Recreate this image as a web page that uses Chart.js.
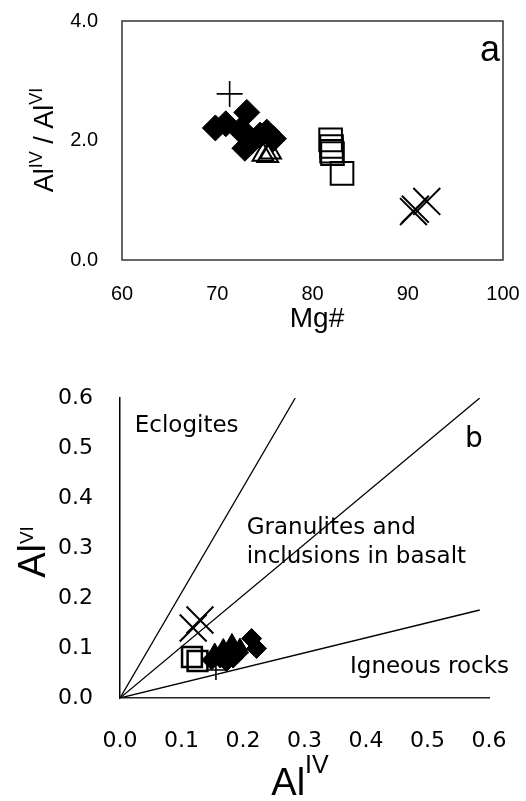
<!DOCTYPE html>
<html>
<head>
<meta charset="utf-8">
<script src="https://cdn.jsdelivr.net/npm/chart.js@4.4.0/dist/chart.umd.min.js"></script>
<style>
html, body { margin: 0; padding: 0; background: #fff; }
#wrapA { position: absolute; left: 0; top: 0; width: 526px; height: 340px; }
#wrapB { position: absolute; left: 0; top: 340px; width: 526px; height: 461px; }
</style>
</head>
<body>
<div id="wrapA"><canvas id="chartA"></canvas></div>
<div id="wrapB"><canvas id="chartB"></canvas></div>
<script>
// ---- (a) AlIV/AlVI vs Mg#  [Mg#, ratio]
var diamondsA = [[69.8, 2.21], [70.9, 2.28], [73.1, 2.47], [72.4, 2.17], [73.1, 2.09],
                 [73.4, 1.95], [72.9, 1.87], [74.5, 2.09], [75.9, 2.03], [75.2, 2.14]];
var plusA = [[71.3, 2.78]];
var trianglesA = [[74.8, 1.76], [75.3, 1.74], [75.6, 1.80]];
var squaresA = [[81.9, 2.01], [82.0, 1.90], [82.0, 1.82], [82.1, 1.78], [83.1, 1.45]];
var crossesA = [[90.6, 0.81], [90.8, 0.85], [92.0, 0.98]];
var ticksMg = [60, 70, 80, 90, 100];
var ticksRatio = [0, 2, 4];

// ---- (b) AlVI vs AlIV  [AlIV, AlVI]
var diamondsB = [[0.149, 0.076], [0.163, 0.080], [0.173, 0.073], [0.176, 0.086], [0.184, 0.080],
                 [0.192, 0.090], [0.214, 0.119], [0.222, 0.099]];
var trianglesB = [[0.154, 0.090], [0.168, 0.099], [0.182, 0.109], [0.195, 0.100]];
var plusB = [[0.156, 0.056]];
var squaresB = [[0.117, 0.082], [0.126, 0.074]];
var crossesB = [[0.119, 0.140], [0.130, 0.156]];
// field boundaries, drawn from the origin
var lineEclogite = [[0, 0], [0.285, 0.6]];
var lineGranulite = [[0, 0], [0.585, 0.6]];
var lineIgneous = [[0, 0], [0.585, 0.176]];
var ticksAl = [0, 0.1, 0.2, 0.3, 0.4, 0.5, 0.6];

function pts(arr) {
  return arr.map(function (p) { return { x: p[0], y: p[1] }; });
}

var ARIAL = 'Arial, "Liberation Sans", sans-serif';
var DEJAVU = '"DejaVu Sans", sans-serif';

// text with superscripts: parts = [{text, size, rise, family}]
function drawRich(ctx, parts, x, y, align, rot) {
  ctx.save();
  ctx.translate(x, y);
  if (rot) ctx.rotate(rot);
  var total = 0;
  parts.forEach(function (p) {
    ctx.font = p.size + 'px ' + p.family;
    p.w = ctx.measureText(p.text).width;
    total += p.w;
  });
  var cx = 0;
  if (align === 'center') cx = -total / 2;
  if (align === 'right') cx = -total;
  ctx.fillStyle = '#000';
  ctx.textAlign = 'left';
  ctx.textBaseline = 'alphabetic';
  parts.forEach(function (p) {
    ctx.font = p.size + 'px ' + p.family;
    ctx.fillText(p.text, cx, -(p.rise || 0));
    cx += p.w;
  });
  ctx.restore();
}

function marker(label, data, style, radius, fill, width) {
  return {
    label: label,
    data: pts(data),
    pointStyle: style,
    pointRadius: radius,
    pointHoverRadius: radius,
    pointBackgroundColor: fill,
    pointBorderColor: '#000',
    pointBorderWidth: width
  };
}

function boundary(label, data) {
  return {
    label: label,
    data: pts(data),
    showLine: true,
    borderColor: '#000',
    borderWidth: 1.3,
    pointRadius: 0,
    pointHoverRadius: 0
  };
}

// fixed axis box, no extra room for overhanging tick labels
function fixBox(w, h) {
  return function (s) {
    if (w) s.width = w;
    if (h) s.height = h;
    s.paddingTop = 0; s.paddingBottom = 0;
    s.paddingLeft = 0; s.paddingRight = 0;
  };
}

var labelsA = {
  id: 'labelsA',
  afterDraw: function (chart) {
    var ctx = chart.ctx, a = chart.chartArea;
    ctx.save();
    ctx.strokeStyle = '#333';
    ctx.lineWidth = 1.5;
    ctx.strokeRect(a.left, a.top, a.right - a.left, a.bottom - a.top);
    ctx.restore();
    drawRich(ctx, [
      { text: 'Al', size: 27, family: ARIAL },
      { text: 'IV', size: 18, rise: 11, family: ARIAL },
      { text: ' / ', size: 27, family: ARIAL },
      { text: 'Al', size: 27, family: ARIAL },
      { text: 'VI', size: 18, rise: 11, family: ARIAL }
    ], 53, 140, 'center', -Math.PI / 2);
    drawRich(ctx, [{ text: 'Mg#', size: 28, family: ARIAL }], 317, 327, 'center');
    var sx = chart.scales.x, sy = chart.scales.y;
    drawRich(ctx, [{ text: 'a', size: 36, family: ARIAL }],
      sx.getPixelForValue(99.7), sy.getPixelForValue(3.33), 'right');
  }
};

var labelsB = {
  id: 'labelsB',
  afterDraw: function (chart) {
    var ctx = chart.ctx;
    var sx = chart.scales.x, sy = chart.scales.y;
    drawRich(ctx, [
      { text: 'Al', size: 38, family: ARIAL },
      { text: 'VI', size: 19, rise: 12, family: ARIAL }
    ], 45, 212, 'center', -Math.PI / 2);
    drawRich(ctx, [
      { text: 'Al', size: 38, family: ARIAL },
      { text: 'IV', size: 25, rise: 22, family: ARIAL }
    ], 300, 455, 'center');
    function note(t, x, y, size) {
      drawRich(ctx, [{ text: t, size: size, family: DEJAVU }],
        sx.getPixelForValue(x), sy.getPixelForValue(y), 'left');
    }
    note('Eclogites', 0.024, 0.532, 23);
    note('Granulites and', 0.206, 0.328, 23);
    note('inclusions in basalt', 0.206, 0.270, 23);
    note('Igneous rocks', 0.374, 0.050, 23);
    note('b', 0.561, 0.502, 28);
  }
};

Chart.defaults.animation = false;
Chart.defaults.color = '#000';

new Chart(document.getElementById('chartA'), {
  type: 'scatter',
  data: {
    datasets: [
      marker('plus', plusA, 'cross', 13, '#000', 1.6),
      marker('diamond', diamondsA, 'rectRot', 13, '#000', 1),
      marker('triangle', trianglesA, 'triangle', 12, 'rgba(0,0,0,0)', 2),
      marker('square', squaresA, 'rect', 16, 'rgba(0,0,0,0)', 2),
      marker('x', crossesA, 'crossRot', 19, '#000', 2)
    ]
  },
  options: {
    responsive: true,
    maintainAspectRatio: false,
    layout: { padding: { top: 14, right: 23, left: 0, bottom: 0 } },
    plugins: { legend: { display: false }, tooltip: { enabled: false } },
    scales: {
      x: {
        type: 'linear', min: 60, max: 100,
        afterBuildTicks: function (s) { s.ticks = ticksMg.map(function (v) { return { value: v }; }); },
        ticks: { font: { family: ARIAL, size: 20 }, color: '#000', padding: 22 },
        grid: { display: false, drawTicks: false },
        border: { display: false },
        afterFit: fixBox(0, 80)
      },
      y: {
        type: 'linear', min: 0, max: 4,
        afterBuildTicks: function (s) { s.ticks = ticksRatio.map(function (v) { return { value: v }; }); },
        ticks: {
          font: { family: ARIAL, size: 20 }, color: '#000', padding: 24,
          callback: function (v) { return v.toFixed(1); }
        },
        grid: { display: false, drawTicks: false },
        border: { display: false },
        afterFit: fixBox(122, 0)
      }
    }
  },
  plugins: [labelsA]
});

new Chart(document.getElementById('chartB'), {
  type: 'scatter',
  data: {
    datasets: [
      marker('plus', plusB, 'cross', 10, '#000', 1.6),
      marker('diamond', diamondsB, 'rectRot', 10, '#000', 1),
      marker('triangle', trianglesB, 'triangle', 10, '#000', 1),
      marker('square', squaresB, 'rect', 14, 'rgba(0,0,0,0)', 2.5),
      marker('x', crossesB, 'crossRot', 19, '#000', 2),
      boundary('Eclogites', lineEclogite),
      boundary('Granulites', lineGranulite),
      boundary('Igneous', lineIgneous)
    ]
  },
  options: {
    responsive: true,
    maintainAspectRatio: false,
    layout: { padding: { top: 58, right: 37, left: 0, bottom: 0 } },
    plugins: { legend: { display: false }, tooltip: { enabled: false } },
    scales: {
      x: {
        type: 'linear', min: 0, max: 0.6,
        afterBuildTicks: function (s) { s.ticks = ticksAl.map(function (v) { return { value: v }; }); },
        ticks: {
          font: { family: DEJAVU, size: 22 }, color: '#000', padding: 30,
          callback: function (v) { return v.toFixed(1); }
        },
        grid: { display: false, drawTicks: false },
        border: { display: true, color: '#222', width: 1.5 },
        afterFit: fixBox(0, 103)
      },
      y: {
        type: 'linear', min: 0, max: 0.6,
        afterBuildTicks: function (s) { s.ticks = ticksAl.map(function (v) { return { value: v }; }); },
        ticks: {
          font: { family: DEJAVU, size: 22 }, color: '#000', padding: 27,
          callback: function (v) { return v.toFixed(1); }
        },
        grid: { display: false, drawTicks: false },
        border: { display: true, color: '#000', width: 1.5 },
        afterFit: fixBox(120, 0)
      }
    }
  },
  plugins: [labelsB]
});
</script>
</body>
</html>
